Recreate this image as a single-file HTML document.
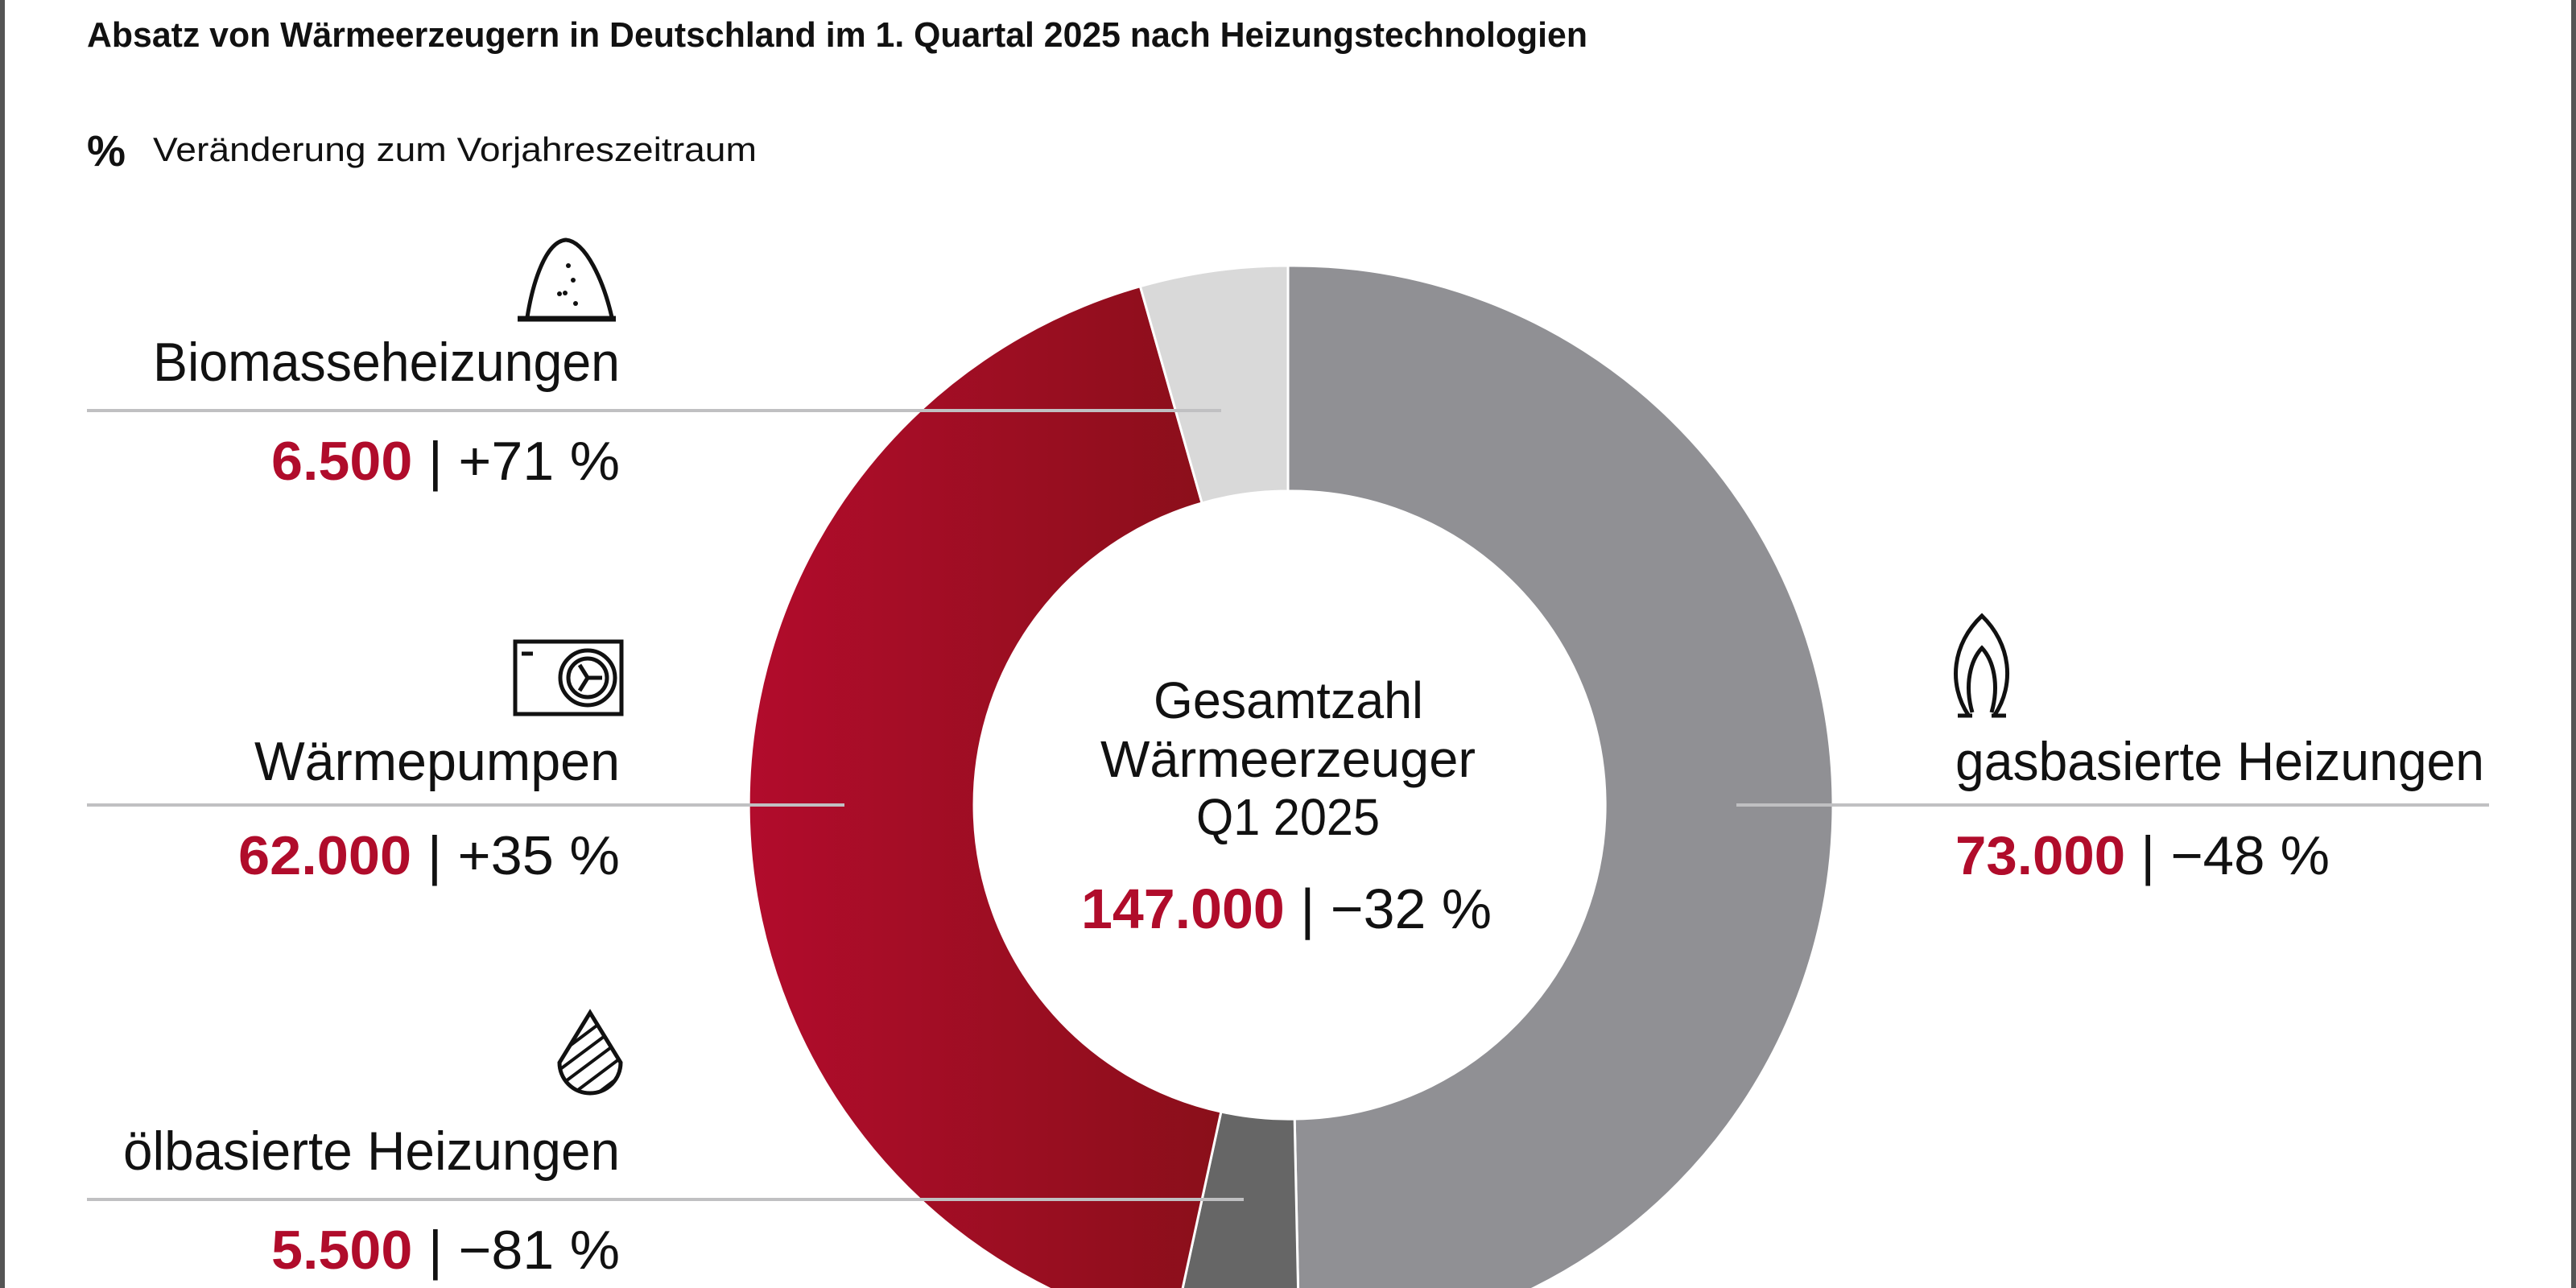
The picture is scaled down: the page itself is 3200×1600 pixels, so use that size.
<!DOCTYPE html>
<html><head><meta charset="utf-8"><style>
html,body{margin:0;padding:0;background:#fff;}
svg{display:block;}
text{font-family:"Liberation Sans Narrow","Liberation Sans",sans-serif;}
</style></head><body>
<svg width="3200" height="1600" viewBox="0 0 3200 1600" xmlns="http://www.w3.org/2000/svg">
<defs>
<linearGradient id="hp" x1="929" y1="0" x2="1517" y2="0" gradientUnits="userSpaceOnUse">
<stop offset="0" stop-color="#b20c2c"/><stop offset="1" stop-color="#8a0f1a"/>
</linearGradient>
<clipPath id="dc"><path d="M695,1320 L733,1258 L771,1320 A38,38 0 1 1 695,1320 Z"/></clipPath>
</defs>
<rect x="0" y="0" width="6" height="1600" fill="#555"/>
<rect x="3194" y="0" width="6" height="1600" fill="#555"/>

<text x="108" y="58" font-size="44" font-weight="bold" textLength="1864" lengthAdjust="spacingAndGlyphs" fill="#111">Absatz von Wärmeerzeugern in Deutschland im 1. Quartal 2025 nach Heizungstechnologien</text>
<text x="108" y="206" font-size="54" font-weight="bold" fill="#111" textLength="48" lengthAdjust="spacingAndGlyphs">%</text>
<text x="190" y="200" font-size="42" fill="#111" textLength="750" lengthAdjust="spacingAndGlyphs">Veränderung zum Vorjahreszeitraum</text>

<g stroke="#fff" stroke-width="3">
<path d="M1600,330 A670,670 0 0 1 1614,1670 L1608.2,1390 A390,390 0 0 0 1600,610 Z" fill="#909094"/>
<path d="M1614,1670 A670,670 0 0 1 1457.3,1654.6 L1516.9,1381 A390,390 0 0 0 1608.2,1390 Z" fill="#666666"/>
<path d="M1457.3,1654.6 A670,670 0 0 1 1416.4,355.7 L1493.1,624.9 A390,390 0 0 0 1516.9,1381 Z" fill="url(#hp)"/>
<path d="M1416.4,355.7 A670,670 0 0 1 1600,330 L1600,610 A390,390 0 0 0 1493.1,624.9 Z" fill="#d9d9d9"/>
</g>

<g stroke="#c0c0c2" stroke-width="4">
<line x1="108" y1="510" x2="1517" y2="510"/>
<line x1="108" y1="1000" x2="1049" y2="1000"/>
<line x1="108" y1="1490" x2="1545" y2="1490"/>
<line x1="2157" y1="1000" x2="3092" y2="1000"/>
</g>

<g font-size="68" fill="#111" lengthAdjust="spacingAndGlyphs">
<text x="190" y="473" textLength="580" lengthAdjust="spacingAndGlyphs">Biomasseheizungen</text>
<text x="316" y="969" textLength="454" lengthAdjust="spacingAndGlyphs">Wärmepumpen</text>
<text x="153" y="1453" textLength="617" lengthAdjust="spacingAndGlyphs">ölbasierte Heizungen</text>
<text x="2429" y="969" textLength="657" lengthAdjust="spacingAndGlyphs">gasbasierte Heizungen</text>
</g>
<g font-size="68">
<text x="337" y="596" textLength="433" lengthAdjust="spacingAndGlyphs"><tspan fill="#b00c2b" font-weight="bold">6.500</tspan><tspan fill="#111"> | +71 %</tspan></text>
<text x="296" y="1086" textLength="474" lengthAdjust="spacingAndGlyphs"><tspan fill="#b00c2b" font-weight="bold">62.000</tspan><tspan fill="#111"> | +35 %</tspan></text>
<text x="337" y="1576" textLength="433" lengthAdjust="spacingAndGlyphs"><tspan fill="#b00c2b" font-weight="bold">5.500</tspan><tspan fill="#111"> | −81 %</tspan></text>
<text x="2429" y="1086" textLength="465" lengthAdjust="spacingAndGlyphs"><tspan fill="#b00c2b" font-weight="bold">73.000</tspan><tspan fill="#111"> | −48 %</tspan></text>
</g>

<g font-size="64" fill="#111">
<text x="1433" y="892" textLength="335" lengthAdjust="spacingAndGlyphs">Gesamtzahl</text>
<text x="1367" y="965" textLength="466" lengthAdjust="spacingAndGlyphs">Wärmeerzeuger</text>
<text x="1486" y="1037" textLength="228" lengthAdjust="spacingAndGlyphs">Q1 2025</text>
</g>
<text x="1343" y="1153" font-size="70" textLength="510" lengthAdjust="spacingAndGlyphs"><tspan fill="#b00c2b" font-weight="bold">147.000</tspan><tspan fill="#111"> | −32 %</tspan></text>

<g fill="none" stroke="#111" stroke-width="5">
<path d="M655,394 C662,350 678,300 703,298 C728,300 750,350 760,394"/>
<line x1="643" y1="396" x2="765" y2="396" stroke-width="7"/>
<path d="M640,797 L772,797 L772,887 L640,887 Z"/>
<line x1="648" y1="812" x2="662" y2="812"/>
<circle cx="730" cy="842" r="34"/>
<circle cx="730" cy="842" r="24"/>
<path d="M730,842 L748,842 M730,842 L720,826 M730,842 L720,858"/>
<path d="M695,1320 L733,1258 L771,1320 A38,38 0 1 1 695,1320 Z"/>
<g clip-path="url(#dc)" stroke-width="4">
<path d="M680,1300 L760,1240 M680,1320 L780,1245 M680,1340 L790,1258 M680,1360 L790,1278 M690,1375 L790,1300 M700,1390 L790,1322 M720,1395 L790,1345"/>
</g>
<path d="M2445,888 C2420,850 2425,800 2462,765 C2498,800 2503,850 2478,888"/>
<path d="M2450,885 C2440,850 2448,820 2462,805 C2476,820 2484,850 2474,885"/>
<line x1="2432" y1="889" x2="2450" y2="889"/>
<line x1="2474" y1="889" x2="2492" y2="889"/>
</g>
<g fill="#111">
<circle cx="706" cy="330" r="3"/><circle cx="712" cy="348" r="3"/><circle cx="702" cy="364" r="3"/><circle cx="715" cy="377" r="3"/><circle cx="695" cy="365" r="3"/>
</g>
</svg>
</body></html>
